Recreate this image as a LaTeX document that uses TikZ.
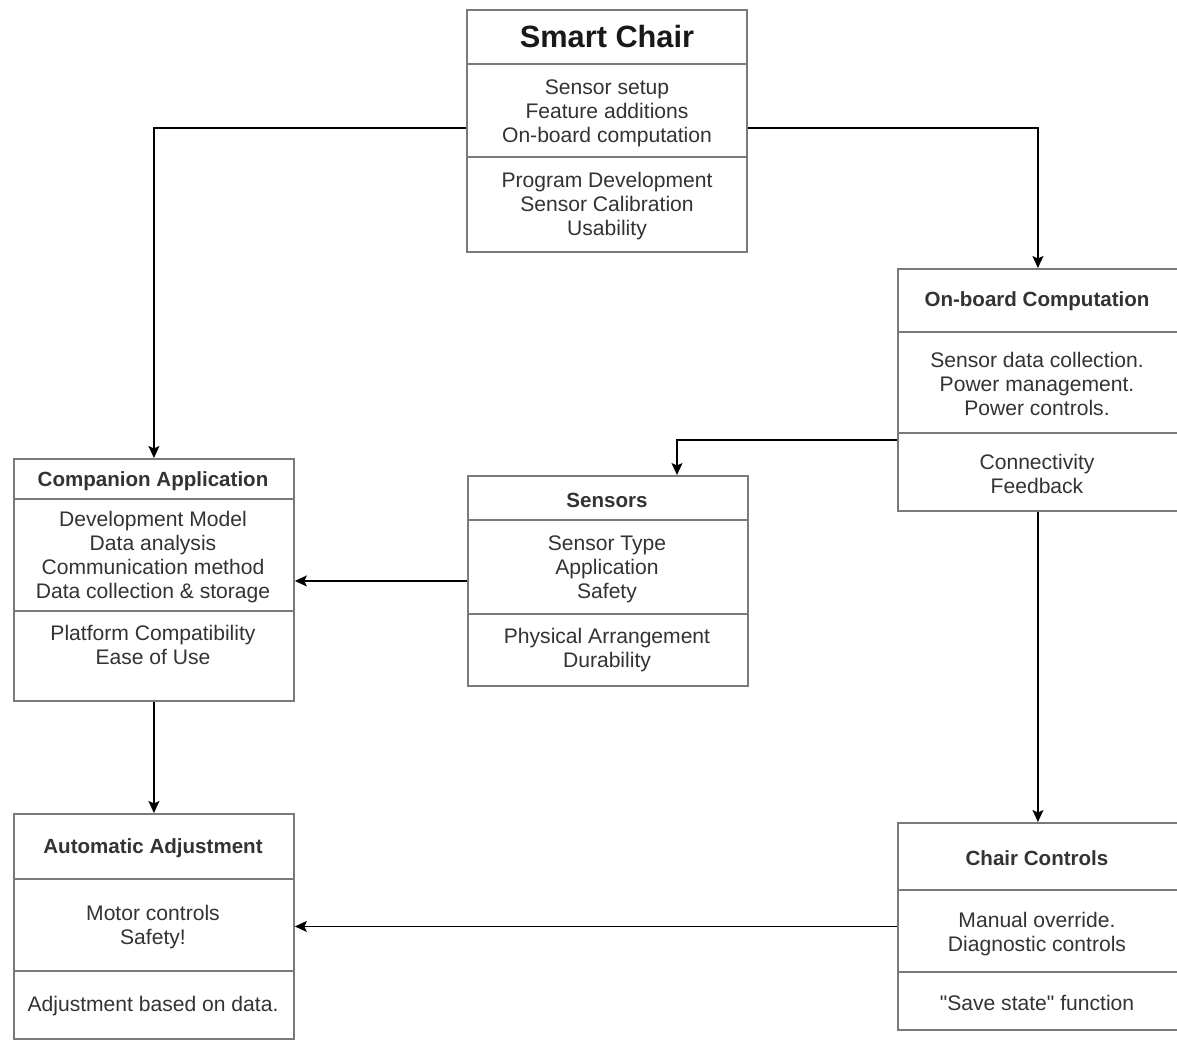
\documentclass[tikz,border=0pt]{standalone}
\usepackage{fontspec}
\setmainfont{Liberation Sans}[Ligatures=TeXOff]
\usetikzlibrary{arrows.meta}
\definecolor{boxgray}{HTML}{7A7A7A}
\definecolor{txtgray}{HTML}{333333}

\begin{document}
\begin{tikzpicture}[x=0.02cm, y=-0.02cm, >={Stealth[length=0.24cm, width=0.22cm, inset=0.05cm]},
    box/.style={draw=boxgray, line width=1.1pt, fill=white, minimum width=5.6cm, anchor=north west, inner sep=0pt},
    divider/.style={draw=boxgray, line width=1.1pt},
    head/.style={text=txtgray, yshift=-0.04cm, font=\fontsize{11.7}{13.6}\selectfont\bfseries},
    body/.style={text=txtgray, yshift=-0.04cm, align=center, font=\fontsize{12}{13.66}\selectfont},
    arr/.style={->, black, line width=0.75pt}]

  \useasboundingbox (0,0) rectangle (1177,1046);

  % Smart Chair
  \node[box, minimum height=4.84cm] (chair) at (466,9) {};
  \draw[divider] (chair.west |- 0,64) -- (chair.east |- 0,64);
  \draw[divider] (chair.west |- 0,157) -- (chair.east |- 0,157);
  \node[text=black!90, font=\fontsize{17.5}{20}\selectfont\bfseries] (chairtitle) at (607,37) {Smart Chair};
  \node[body] (chairmid) at (607,111) {Sensor setup\\Feature additions\\On-board computation};
  \node[body] (chairlow) at (607,204) {Program Development\\Sensor Calibration\\Usability};

  % On-board Computation
  \node[box, minimum height=4.84cm] (onboard) at (897,268) {};
  \draw[divider] (onboard.west |- 0,332) -- (onboard.east |- 0,332);
  \draw[divider] (onboard.west |- 0,433) -- (onboard.east |- 0,433);
  \node[head] (onboardtitle) at (1037,299) {On-board Computation};
  \node[body] (onboardmid) at (1037,382) {Sensor data collection.\\Power management.\\Power controls.};
  \node[body] (onboardlow) at (1037,472) {Connectivity\\Feedback};

  % Companion Application
  \node[box, minimum height=4.84cm] (companion) at (13,458) {};
  \draw[divider] (companion.west |- 0,499) -- (companion.east |- 0,499);
  \draw[divider] (companion.west |- 0,611) -- (companion.east |- 0,611);
  \node[head] (companiontitle) at (153,479) {Companion Application};
  \node[body] (companionmid) at (153,555) {Development Model\\Data analysis\\Communication method\\Data collection \& storage};
  \node[body] (companionlow) at (153,643) {Platform Compatibility\\Ease of Use};

  % Sensors
  \node[box, minimum height=4.2cm] (sensors) at (467,475) {};
  \draw[divider] (sensors.west |- 0,520) -- (sensors.east |- 0,520);
  \draw[divider] (sensors.west |- 0,614) -- (sensors.east |- 0,614);
  \node[head] (sensorstitle) at (607,498) {Sensors};
  \node[body] (sensorsmid) at (607,567) {Sensor Type\\Application\\Safety};
  \node[body] (sensorslow) at (607,648) {Physical Arrangement\\Durability};

  % Automatic Adjustment
  \node[box, minimum height=4.5cm] (automatic) at (13,813) {};
  \draw[divider] (automatic.west |- 0,879) -- (automatic.east |- 0,879);
  \draw[divider] (automatic.west |- 0,971) -- (automatic.east |- 0,971);
  \node[head] (automatictitle) at (153,846) {Automatic Adjustment};
  \node[body] (automaticmid) at (153,925) {Motor controls\\Safety!};
  \node[body] (automaticlow) at (153,1004) {Adjustment based on data.};

  % Chair Controls
  \node[box, minimum height=4.14cm] (controls) at (897,822) {};
  \draw[divider] (controls.west |- 0,890) -- (controls.east |- 0,890);
  \draw[divider] (controls.west |- 0,972) -- (controls.east |- 0,972);
  \node[head] (controlstitle) at (1037,856) {Chair Controls};
  \node[body] (controlsmid) at (1037,932) {Manual override.\\Diagnostic controls};
  \node[body] (controlslow) at (1037,1001) {"Save state" function};

  % Connections
  \draw[arr] (chair.west |- 0,128) -| (companion.north);
  \draw[arr] (chair.east |- 0,128) -| (onboard.north);
  \draw[arr] (onboard.west |- 0,440) -| (sensors.north -| 677,0);
  \draw[arr] (sensors.west) -- (companion.east |- sensors.west);
  \draw[arr] (companion.south) -- (automatic.north);
  \draw[arr] (onboard.south) -- (controls.north);
  \draw[arr] (controls.west) -- (automatic.east |- controls.west);
\end{tikzpicture}
\end{document}
